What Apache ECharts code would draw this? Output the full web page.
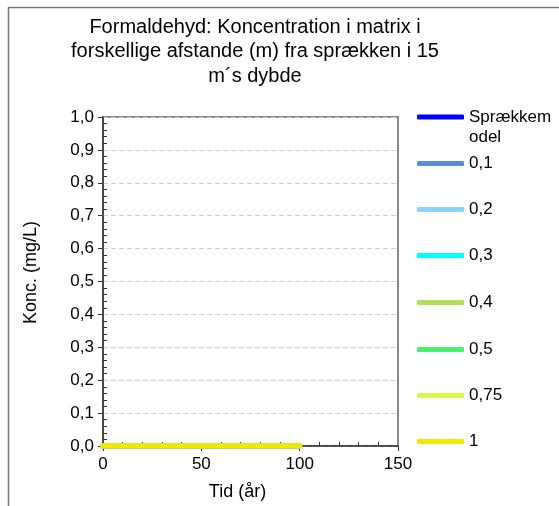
<!DOCTYPE html>
<html>
<head>
<meta charset="utf-8">
<script src="https://cdn.jsdelivr.net/npm/echarts@6/dist/echarts.min.js"></script>
<style>html,body{margin:0;padding:0;background:#fff}#c{width:559px;height:506px}</style>
</head>
<body>
<div id="c"></div>
<script>
var titleText = 'Formaldehyd: Koncentration i matrix i\nforskellige afstande (m) fra sprækken i 15\nm\u00b4s dybde';
var xName = 'Tid (år)';
var yName = 'Konc. (mg/L)';
var times = [0, 25, 50, 75, 100];
var seriesNames = ['Sprækkemodel', '0,1', '0,2', '0,3', '0,4', '0,5', '0,75', '1'];
var sSprække = [0, 0, 0, 0, 0];
var s01 = [0, 0, 0, 0, 0];
var s02 = [0, 0, 0, 0, 0];
var s03 = [0, 0, 0, 0, 0];
var s04 = [0, 0, 0, 0, 0];
var s05 = [0, 0, 0, 0, 0];
var s075 = [0, 0, 0, 0, 0];
var s1 = [0, 0, 0, 0, 0];
var seriesValues = [sSprække, s01, s02, s03, s04, s05, s075, s1];
var colors = ['#0000ff', '#558ed5', '#8dd3f7', '#00ffff', '#b3e05a', '#4cef6b', '#dcf54a', '#f0ea00'];
var legendCenters = [117, 163, 209, 255, 302, 349, 395, 441];

var FONT = 'Arial, "Liberation Sans", sans-serif';
var chart = echarts.init(document.getElementById('c'), null, {renderer: 'canvas'});

var series = seriesNames.map(function (n, i) {
  return {
    name: n, type: 'line', symbol: 'none', showSymbol: false,
    data: times.map(function (t, k) { return [t, seriesValues[i][k]]; }),
    lineStyle: {width: 5, color: colors[i], cap: 'round'},
    itemStyle: {color: colors[i]},
    z: 3 + i
  };
});

var legends = seriesNames.map(function (n, i) {
  var first = i === 0;
  return {
    data: [{name: n, icon: 'roundRect'}], left: 417, top: first ? legendCenters[i] - 30 : legendCenters[i] - 8,
    orient: 'vertical', padding: 0, itemWidth: 47, itemHeight: 5, itemGap: 4,
    selectedMode: false,
    formatter: first ? function () { return ' \nSprækkem\nodel'; } : '{name}',
    textStyle: {fontFamily: FONT, fontSize: 17, color: '#000', lineHeight: first ? 20 : 16}
  };
});

chart.setOption({
  animation: false,
  backgroundColor: '#fff',
  title: {
    text: titleText, left: 250, top: 10, textAlign: 'center',
    textStyle: {fontFamily: FONT, fontSize: 20, fontWeight: 'normal', color: '#000', lineHeight: 24.5}
  },
  legend: legends,
  grid: {left: 103, top: 117, right: 161, bottom: 59, show: true, borderColor: '#888', borderWidth: 2, containLabel: false},
  xAxis: {
    type: 'value', min: 0, max: 150, interval: 50,
    name: xName, nameLocation: 'middle', nameGap: 37,
    nameTextStyle: {fontFamily: FONT, fontSize: 18, color: '#000', padding: [0, 26, 0, 0]},
    axisLine: {show: true, onZero: false, lineStyle: {color: '#333', width: 1.5}},
    axisTick: {show: true, inside: false, length: 5, lineStyle: {color: '#333'}},
    minorTick: {show: true, splitNumber: 5, length: -4, lineStyle: {color: '#333'}},
    axisLabel: {fontFamily: FONT, fontSize: 17, color: '#000', margin: 10},
    splitLine: {show: false}
  },
  yAxis: {
    type: 'value', min: 0, max: 1, interval: 0.1,
    name: yName, nameLocation: 'middle', nameGap: 63, nameRotate: 90,
    nameTextStyle: {fontFamily: FONT, fontSize: 18, color: '#000', padding: [0, 0, 0, 18]},
    axisLine: {show: true, onZero: false, lineStyle: {color: '#333', width: 1.5}},
    axisTick: {show: true, inside: false, length: 5, lineStyle: {color: '#333'}},
    minorTick: {show: true, splitNumber: 5, length: -4, lineStyle: {color: '#333'}},
    axisLabel: {fontFamily: FONT, fontSize: 17, color: '#000', margin: 9,
      formatter: function (v) { return v.toFixed(1).replace('.', ','); }},
    splitLine: {show: true, lineStyle: {color: '#d0d0d0', type: [5, 3], width: 1}}
  },
  graphic: [
    {type: 'line', shape: {x1: 8, y1: 7.5, x2: 559, y2: 7.5}, style: {stroke: '#777', lineWidth: 1.5}, silent: true},
    {type: 'line', shape: {x1: 8.5, y1: 7, x2: 8.5, y2: 506}, style: {stroke: '#777', lineWidth: 1.5}, silent: true}
  ],
  series: series
});
</script>
</body>
</html>
